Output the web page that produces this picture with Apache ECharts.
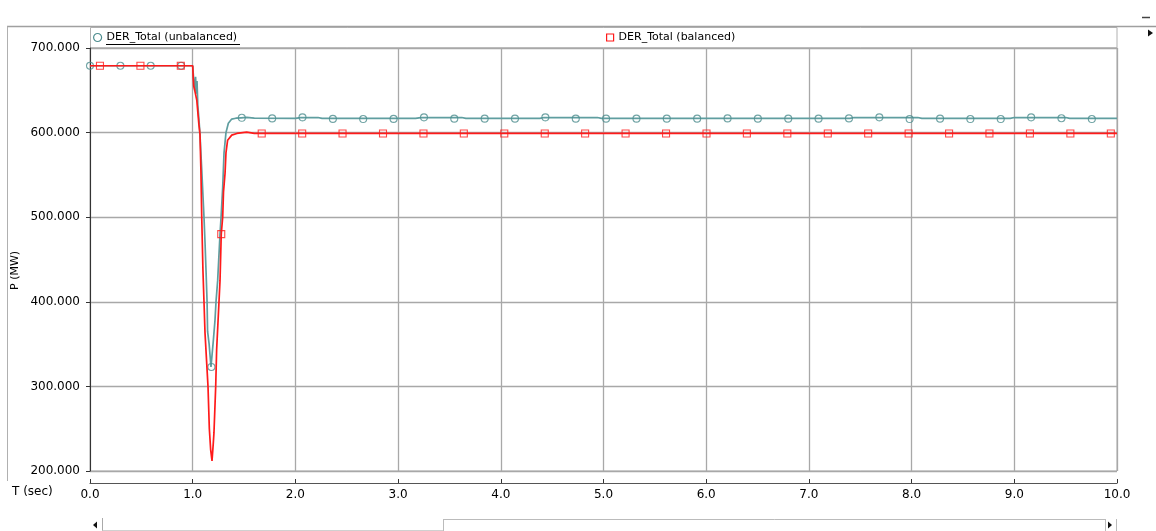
<!DOCTYPE html>
<html>
<head>
<meta charset="utf-8">
<title>DER_Total</title>
<script src="https://cdn.jsdelivr.net/npm/echarts@6/dist/echarts.min.js"></script>
<style>
  html, body { margin: 0; padding: 0; background: #ffffff; }
  #chart { width: 1156px; height: 531px; }
</style>
</head>
<body>
<div id="chart"></div>
<script>
// Time axis ticks (s) and power axis ticks (MW)
const timeTicks = [0, 1, 2, 3, 4, 5, 6, 7, 8, 9, 10];
const powerTicks = [200, 300, 400, 500, 600, 700];

// DER_Total (unbalanced) trace: time (s) and active power (MW)
const unbalancedT = [0, 1.0, 1.01, 1.02, 1.028, 1.035, 1.042, 1.05, 1.06, 1.07, 1.087, 1.11, 1.12, 1.13, 1.14, 1.145, 1.16, 1.17, 1.178,
  1.188, 1.2, 1.217, 1.227, 1.243, 1.266, 1.276, 1.292, 1.305, 1.324, 1.347, 1.38, 1.42, 1.47, 1.525, 1.6,
  2.0, 2.05, 2.22, 2.26, 3.17, 3.22, 3.62, 3.66, 4.38, 4.42, 4.94, 4.98, 7.40, 7.44, 8.06, 8.10, 8.96, 9.0, 9.5, 9.54, 10.0];
const unbalancedP = [679, 679, 662, 650, 666, 646, 661, 632, 617, 600, 559, 500, 470, 436, 400, 365, 350, 335, 323,
  325, 353, 378, 400, 425, 480, 500, 535, 576, 600, 611, 616, 617, 617.5, 618, 617,
  616.8, 617.8, 617.8, 616.8, 616.8, 617.8, 617.8, 616.8, 616.8, 617.8, 617.8, 616.8, 616.8, 617.8, 617.8, 616.8, 616.8, 617.8, 617.8, 616.8, 616.8];

// DER_Total (balanced) trace
const balancedT = [0, 1.0, 1.005, 1.01, 1.02, 1.04, 1.06, 1.071, 1.08, 1.088, 1.1, 1.11, 1.12, 1.149, 1.162, 1.175, 1.188,
  1.2, 1.207, 1.224, 1.233, 1.256, 1.266, 1.278, 1.292, 1.3, 1.315, 1.324, 1.34, 1.38, 1.43, 1.525, 1.6, 10.0];
const balancedP = [679, 679, 665, 655, 650, 638, 610, 598, 555, 500, 436, 400, 363, 300, 250, 225, 212,
  232, 245, 300, 343, 400, 425, 480, 500, 530, 552, 576, 591, 597, 599, 600.5, 599, 599];

// Marker samples along each trace
const unbalancedMarkT = [0, 0.296, 0.591, 0.887, 1.182, 1.478, 1.774, 2.069, 2.365, 2.660, 2.956, 3.252, 3.547, 3.843, 4.138,
  4.434, 4.730, 5.025, 5.321, 5.616, 5.912, 6.208, 6.503, 6.799, 7.094, 7.390, 7.686, 7.981, 8.277, 8.572, 8.868, 9.164, 9.459, 9.755];
const unbalancedMarkP = [679, 679, 679, 679, 323, 617.5, 616.8, 618, 616.2, 616, 616.2, 618, 616.5, 616.5, 616.5,
  618, 616.5, 616.5, 616.5, 616.5, 616.5, 616.8, 616.5, 616.5, 616.5, 616.8, 618, 616, 616.5, 616, 616, 618, 617, 616];

const balancedMarkT = [0.097, 0.491, 0.884, 1.278, 1.672, 2.066, 2.459, 2.853, 3.247, 3.640, 4.034, 4.428, 4.821,
  5.215, 5.609, 6.003, 6.396, 6.790, 7.184, 7.577, 7.971, 8.365, 8.758, 9.152, 9.546, 9.940];
const balancedMarkP = [679, 679, 679, 480, 599, 599, 599, 599, 599, 599, 599, 599, 599,
  599, 599, 599, 599, 599, 599, 599, 599, 599, 599, 599, 599, 599];

const NAME_U = 'DER_Total (unbalanced)';
const NAME_B = 'DER_Total (balanced)';
const TEAL = '#5f9ea0';
const TEAL_DARK = '#4e8d8f';
const RED = '#ff1a1a';
const FONT = 'DejaVu Sans';

const pairs = (xs, ys) => xs.map((x, i) => [x, ys[i]]);

const chart = echarts.init(document.getElementById('chart'), null, { renderer: 'canvas' });

const GRID_L = 90, GRID_R = 39, GRID_T = 48, GRID_B = 60;

chart.setOption({
  animation: false,
  backgroundColor: '#ffffff',
  textStyle: { fontFamily: FONT },
  grid: {
    left: GRID_L, right: GRID_R, top: GRID_T, bottom: GRID_B,
    show: true, borderColor: '#a9a9a9', borderWidth: 1, backgroundColor: 'transparent'
  },
  legend: [
    {
      left: 93, top: 32, padding: 0, itemWidth: 8, itemHeight: 8, itemGap: 5,
      selectedMode: false,
      textStyle: { fontFamily: FONT, fontSize: 11, color: '#000' },
      data: [{ name: NAME_U, icon: 'circle',
        itemStyle: { color: 'rgba(255,255,255,0)', borderColor: TEAL_DARK, borderWidth: 1.2 } }]
    },
    {
      left: 606, top: 32, padding: 0, itemWidth: 7, itemHeight: 7, itemGap: 5,
      selectedMode: false,
      textStyle: { fontFamily: FONT, fontSize: 11, color: '#000' },
      data: [{ name: NAME_B, icon: 'rect',
        itemStyle: { color: 'rgba(255,255,255,0)', borderColor: RED, borderWidth: 1.2 } }]
    }
  ],
  xAxis: {
    type: 'value',
    min: timeTicks[0], max: timeTicks[timeTicks.length - 1], interval: 1,
    offset: 12,
    axisLine: { show: true, onZero: false, lineStyle: { color: '#555', width: 1.2 } },
    axisTick: { show: true, inside: true, length: 4, lineStyle: { color: '#333' } },
    axisLabel: { fontFamily: FONT, fontSize: 12, color: '#000', margin: 6,
      formatter: v => v.toFixed(1) },
    splitLine: { show: true, lineStyle: { color: '#a8a8a8', width: 1.3 } }
  },
  yAxis: {
    type: 'value',
    min: powerTicks[0], max: powerTicks[powerTicks.length - 1], interval: 100,
    axisLine: { show: true, onZero: false, lineStyle: { color: '#333', width: 1 } },
    axisTick: { show: true, inside: false, length: 4, lineStyle: { color: '#333' } },
    axisLabel: { fontFamily: FONT, fontSize: 12, color: '#000', margin: 10,
      formatter: v => v.toFixed(3) },
    splitLine: { show: true, lineStyle: { color: '#a8a8a8', width: 1.3 } }
  },
  series: [
    {
      name: NAME_U, type: 'line', z: 2,
      data: pairs(unbalancedT, unbalancedP),
      showSymbol: false, symbol: 'none',
      lineStyle: { color: TEAL, width: 1.7 },
      itemStyle: { color: TEAL }
    },
    {
      name: NAME_U, type: 'scatter', z: 3,
      data: pairs(unbalancedMarkT, unbalancedMarkP),
      symbol: 'circle', symbolSize: 7,
      itemStyle: { color: 'rgba(255,255,255,0)', borderColor: TEAL_DARK, borderWidth: 1.1 }
    },
    {
      name: NAME_B, type: 'line', z: 4,
      data: pairs(balancedT, balancedP),
      showSymbol: false, symbol: 'none',
      lineStyle: { color: RED, width: 1.7 },
      itemStyle: { color: RED }
    },
    {
      name: NAME_B, type: 'scatter', z: 5,
      data: pairs(balancedMarkT, balancedMarkP),
      symbol: 'rect', symbolSize: 7,
      itemStyle: { color: 'rgba(255,255,255,0)', borderColor: RED, borderWidth: 1.1 }
    }
  ],
  graphic: [
    // outer panel frame
    { type: 'line', silent: true, shape: { x1: 7, y1: 26.5, x2: 1140, y2: 26.5 },
      style: { stroke: '#a0a0a0', lineWidth: 1.5 } },
    { type: 'line', silent: true, shape: { x1: 7.5, y1: 26.5, x2: 7.5, y2: 481 },
      style: { stroke: '#b0b0b0', lineWidth: 1 } },
    // legend box above the plot
    { type: 'rect', silent: true, shape: { x: 90.5, y: 27.5, width: 1026.5, height: 20.5 },
      style: { fill: 'none', stroke: '#b0b0b0', lineWidth: 1 } },
    // underline of the active legend entry
    { type: 'line', silent: true, shape: { x1: 106, y1: 44.5, x2: 240, y2: 44.5 },
      style: { stroke: '#000', lineWidth: 1 } },
    // window controls, top right
    { type: 'line', silent: true, shape: { x1: 1142, y1: 17.5, x2: 1150, y2: 17.5 },
      style: { stroke: '#444', lineWidth: 1.5 } },
    { type: 'line', silent: true, shape: { x1: 1140, y1: 26.5, x2: 1156, y2: 26.5 },
      style: { stroke: '#999', lineWidth: 1.5 } },
    { type: 'polygon', silent: true, shape: { points: [[1148, 29.5], [1153, 33], [1148, 36.5]] },
      style: { fill: '#111' } },
    // axis titles
    { type: 'text', silent: true, left: 12, top: 486,
      style: { text: 'T (sec)', fontFamily: FONT, fontSize: 12, fill: '#000' } },
    { type: 'text', silent: true, x: 10, y: 290, rotation: Math.PI / 2,
      style: { text: 'P (MW)', fontFamily: FONT, fontSize: 11, fill: '#000' } },
    // horizontal scroll bar
    { type: 'polygon', silent: true, shape: { points: [[97, 521.5], [93, 525], [97, 528.5]] },
      style: { fill: '#111' } },
    { type: 'line', silent: true, shape: { x1: 102.5, y1: 518, x2: 102.5, y2: 531 },
      style: { stroke: '#aaa', lineWidth: 1 } },
    { type: 'line', silent: true, shape: { x1: 102.5, y1: 530.5, x2: 443, y2: 530.5 },
      style: { stroke: '#d0d0d0', lineWidth: 1 } },
    { type: 'line', silent: true, shape: { x1: 443.5, y1: 519, x2: 443.5, y2: 531 },
      style: { stroke: '#bbb', lineWidth: 1 } },
    { type: 'line', silent: true, shape: { x1: 443.5, y1: 519.5, x2: 1105, y2: 519.5 },
      style: { stroke: '#bbb', lineWidth: 1 } },
    { type: 'line', silent: true, shape: { x1: 1105.5, y1: 519, x2: 1105.5, y2: 531 },
      style: { stroke: '#bbb', lineWidth: 1 } },
    { type: 'polygon', silent: true, shape: { points: [[1108, 521.5], [1112, 525], [1108, 528.5]] },
      style: { fill: '#111' } },
    { type: 'line', silent: true, shape: { x1: 1116.5, y1: 519, x2: 1116.5, y2: 531 },
      style: { stroke: '#bbb', lineWidth: 1 } }
  ]
});
</script>
</body>
</html>
